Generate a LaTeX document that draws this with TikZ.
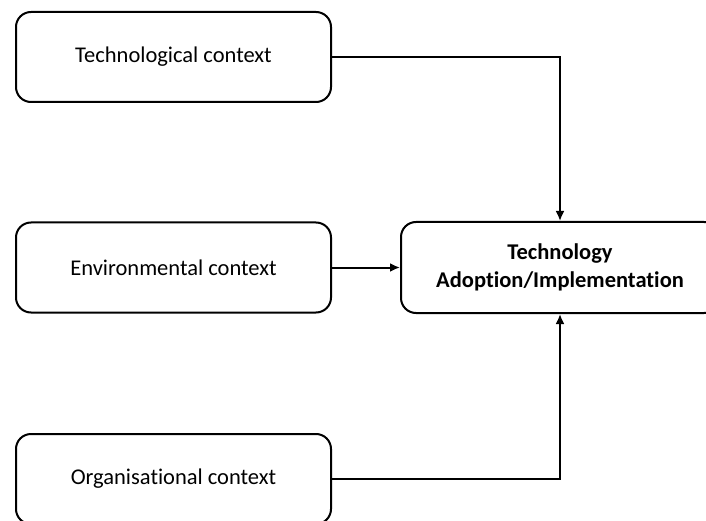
\documentclass[tikz,border=0pt]{standalone}
\usepackage{fontspec}
\setmainfont{Carlito}[Ligatures=NoCommon]
\usetikzlibrary{arrows.meta}
\begin{document}
\begin{tikzpicture}[x=1pt,y=-1pt,
  box/.style={draw=black,line width=2pt,rounded corners=15pt,minimum width=315pt,minimum height=90pt,inner sep=0pt,align=center,font=\fontsize{22.5}{27}\selectfont},
  conn/.style={line width=2pt,-{Latex[length=10pt,width=9pt]}}]
\useasboundingbox (0,0) rectangle (706,521);
\clip (0,0) rectangle (706,521);
\node[box] (tech) at (173.5,57) {Technological context};
\node[box] (env) at (173.5,267.5) {Environmental context};
\node[box] (org) at (173.5,479) {Organisational context};
\node[box,minimum width=318pt,minimum height=91pt,font=\fontsize{22.5}{28.5}\selectfont\bfseries] (tai) at (560,267.5) {Technology\\Adoption/Implementation};
\draw[conn] (tech.east) -| (tai.north);
\draw[conn] (env.east) -- (tai.west);
\draw[conn] (org.east) -| (tai.south);
\end{tikzpicture}
\end{document}
